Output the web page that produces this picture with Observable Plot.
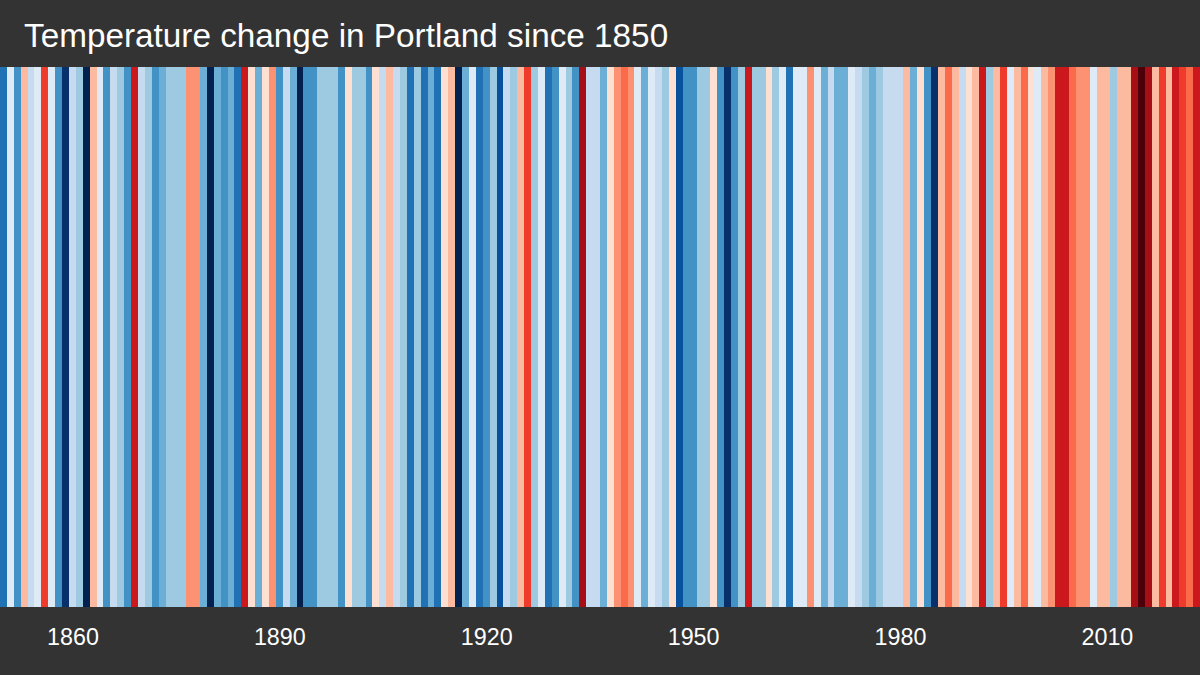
<!DOCTYPE html>
<html>
<head>
<meta charset="utf-8">
<script src="https://cdn.jsdelivr.net/npm/d3@7"></script>
<script src="https://cdn.jsdelivr.net/npm/@observablehq/plot@0.6"></script>
<style>
  html, body { margin: 0; padding: 0; background: #333333; }
  #title {
    height: 67px;
    box-sizing: border-box;
    padding: 17px 0 0 24px;
    color: #fff;
    font: 33.3px/38px "Liberation Sans", sans-serif;
    white-space: nowrap;
  }
  #chart svg { display: block; }
</style>
</head>
<body>
<div id="title"></div>
<div id="chart"></div>
<script>
const titleText = "Temperature change in Portland since 1850";

const startYear = 1850;

// colour class of each year, -9 (coldest) to 8 (warmest)
const yearClasses = [
  -6, -1, -5, 2, -2, -1, 5, -1, -5, -8,
  -2, -3, -9, 2, -1, -5, -2, -3, -5, 6,
  -2, -3, -5, -4, -3, -3, -3, 3, 3, -4,
  -9, -4, -5, -4, -6, 6, 1, -4, 1, 3,
  -5, -2, -4, -9, -5, -5, -3, -3, -3, -5,
  1, -3, -3, -5, 1, -2, 2, -2, -3, -6,
  -3, -6, -4, -6, 1, 2, -9, -4, -1, -6,
  -5, -3, -7, -2, -3, 2, 5, -3, -1, -6,
  -5, -1, -3, -5, 7, -2, -2, -4, 1, 3,
  4, 3, -1, -4, -1, -2, -3, 1, -7, -5,
  -5, -3, -3, 1, -5, -8, -5, -3, 6, -3,
  -3, 1, -3, -1, -6, -1, -1, 3, -1, -4,
  -2, -4, -4, -1, -2, -3, -4, -3, -2, -2,
  -2, 2, -4, 1, -5, -8, 2, 4, 2, -2,
  1, 2, 6, -3, 2, 5, -1, 2, 4, 1,
  -1, 2, 3, 6, 6, 4, 3, 3, -1, 2,
  2, -3, 2, 2, 7, 8, 7, 2, 5, 2,
  6, 5, 4, 6
];

const classDomain = [-9, -8, -7, -6, -5, -4, -3, -2, -1, 1, 2, 3, 4, 5, 6, 7, 8];
const classColors = [
  "#03214f", "#08306b", "#08519c", "#2171b5", "#4292c6", "#6baed6", "#9ecae1", "#c6dbef", "#deebf7",
  "#fee0d2", "#fcbba1", "#fc9272", "#fb6a4a", "#ef3b2c", "#cb181d", "#a50f15", "#4d000a"
];

const tickYears = [1860, 1890, 1920, 1950, 1980, 2010];

const years = yearClasses.map((d, i) => startYear + i);

document.getElementById("title").textContent = titleText;

const chart = Plot.plot({
  width: 1200,
  height: 608,
  marginTop: 0,
  marginRight: 0,
  marginBottom: 68,
  marginLeft: 0,
  style: { background: "#333333", fontFamily: '"Liberation Sans", sans-serif' },
  x: { type: "band", domain: years, padding: 0, round: false, axis: null },
  color: { type: "ordinal", domain: classDomain, range: classColors },
  marks: [
    Plot.cell(yearClasses, {
      x: (d, i) => years[i],
      fill: (d) => d,
      shapeRendering: "crispEdges"
    }),
    Plot.axisX({
      ticks: tickYears,
      tickFormat: (d) => String(d),
      tickSize: 0,
      tickPadding: 21,
      fontSize: 23.3,
      color: "#ffffff",
      label: null
    })
  ]
});

document.getElementById("chart").append(chart);
</script>
</body>
</html>
